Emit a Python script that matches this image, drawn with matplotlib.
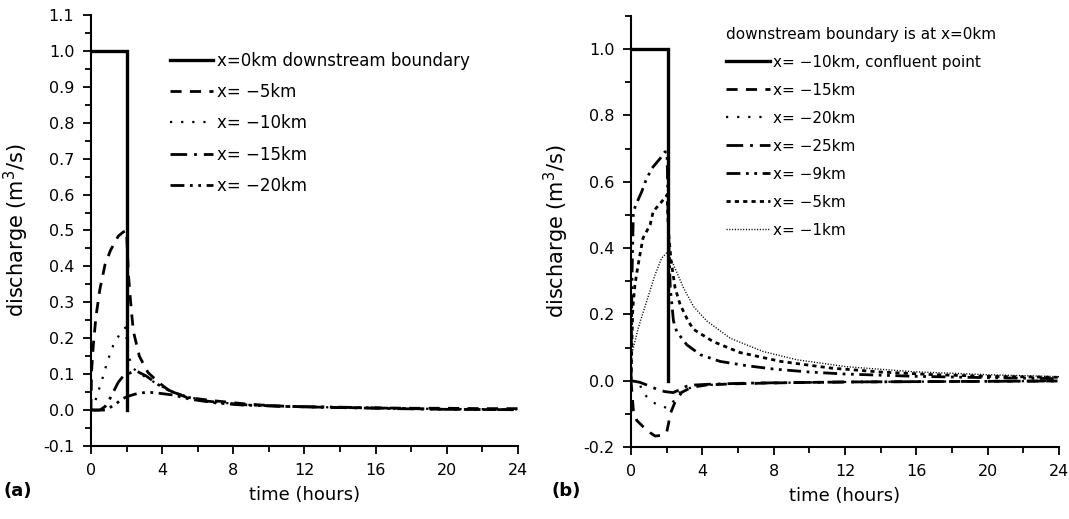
import matplotlib
matplotlib.use("Agg")
import matplotlib.pyplot as plt
from matplotlib import font_manager
from matplotlib.ticker import MultipleLocator

# ---- panel (a): downstream boundary at x=0km ----
t_a_bnd = [0, 2.05, 2.05]
q_a_bnd = [1.0, 1.0, 0.0]
t_a_5 = [0, 0.03, 0.13, 0.28, 0.5, 0.79, 1.1, 1.53, 1.82, 2.0, 2.1, 2.23, 2.38, 2.72,
         3.2, 3.8, 4.4, 5.4, 6.9, 8.7, 10.2, 12, 14, 16, 18, 20, 22, 24]
q_a_5 = [0, 0.105, 0.18, 0.26, 0.336, 0.405, 0.445, 0.484, 0.496, 0.50, 0.38, 0.30, 0.22, 0.15,
         0.105, 0.077, 0.054, 0.035, 0.026, 0.017, 0.012, 0.009, 0.007, 0.006, 0.005, 0.005, 0.004, 0.004]
t_a_10 = [0, 0.15, 0.36, 0.66, 0.92, 1.25, 1.6, 1.95, 2.1, 2.4, 2.8, 3.3, 4.0, 4.8, 5.6,
          7.0, 9.0, 12, 16, 20, 24]
q_a_10 = [0, 0.01, 0.044, 0.09, 0.135, 0.18, 0.21, 0.23, 0.15, 0.115, 0.10, 0.085, 0.065, 0.047, 0.035,
          0.022, 0.014, 0.009, 0.005, 0.003, 0.002]
t_a_15 = [0, 0.5, 0.8, 1.1, 1.53, 1.82, 2.05, 2.5, 3.1, 3.8, 4.6, 5.5, 6.5, 8.5, 11, 14, 17, 20, 24]
q_a_15 = [0, 0.0, 0.01, 0.035, 0.077, 0.095, 0.10, 0.11, 0.095, 0.07, 0.05, 0.035, 0.025, 0.015,
          0.01, 0.007, 0.004, 0.002, 0.001]
t_a_20 = [0, 0.8, 1.1, 1.4, 1.72, 2.05, 2.6, 3.2, 3.8, 4.6, 5.6, 7.0, 8.5, 11, 14, 17, 20, 24]
q_a_20 = [0, 0.0, 0.008, 0.017, 0.03, 0.038, 0.046, 0.05, 0.047, 0.042, 0.03, 0.02, 0.014, 0.01,
          0.008, 0.005, 0.002, 0.001]
labels_a = ["x=0km downstream boundary", "x= \u22125km", "x= \u221210km",
            "x= \u221215km", "x= \u221220km"]

# ---- panel (b): confluent point at x=-10km ----
t_b_bnd = [0, 2.05, 2.05]
q_b_bnd = [1.0, 1.0, 0.0]
t_b_15 = [0, 0.13, 0.32, 0.7, 1.07, 1.35, 1.7, 2.0, 2.1, 2.2, 2.47, 2.85, 3.4, 4.25, 5.5,
          7, 9, 12, 16, 20, 24]
q_b_15 = [0, -0.089, -0.12, -0.14, -0.157, -0.167, -0.165, -0.155, -0.13, -0.10, -0.064, -0.035,
          -0.02, -0.013, -0.01, -0.008, -0.006, -0.004, -0.003, -0.002, -0.001]
t_b_20 = [0, 0.3, 0.5, 0.7, 1.0, 1.25, 1.6, 2.0, 2.3, 2.66, 3.1, 3.6, 4.3, 5.5, 7, 9, 12, 16, 20, 24]
q_b_20 = [0, -0.003, -0.013, -0.038, -0.055, -0.066, -0.075, -0.082, -0.069, -0.038, -0.025,
          -0.018, -0.013, -0.01, -0.008, -0.006, -0.004, -0.003, -0.002, -0.001]
t_b_25 = [0, 0.5, 0.88, 1.2, 1.54, 1.9, 2.36, 2.7, 3.1, 3.6, 4.3, 5.5, 7, 9, 12, 16, 20, 24]
q_b_25 = [0, -0.005, -0.013, -0.02, -0.028, -0.033, -0.036, -0.028, -0.017, -0.013, -0.011,
          -0.009, -0.007, -0.006, -0.004, -0.003, -0.002, -0.001]
t_b_9 = [0, 0.05, 0.13, 0.35, 0.6, 0.8, 1.16, 1.63, 1.9, 2.02, 2.1, 2.2, 2.38, 2.56, 3.13, 3.9,
         5.0, 6.5, 8, 10, 12, 16, 20, 24]
q_b_9 = [0, 0.3, 0.51, 0.54, 0.57, 0.60, 0.64, 0.67, 0.69, 0.69, 0.45, 0.28, 0.18, 0.148, 0.108,
         0.078, 0.058, 0.045, 0.035, 0.026, 0.02, 0.013, 0.009, 0.006]
t_b_5 = [0, 0.05, 0.1, 0.22, 0.4, 0.67, 1.07, 1.24, 1.72, 2.02, 2.1, 2.25, 2.47, 2.75, 3.2, 3.5,
         4.6, 6.1, 8.4, 11.2, 14, 17, 20, 24]
q_b_5 = [0, 0.12, 0.22, 0.29, 0.35, 0.43, 0.47, 0.51, 0.54, 0.56, 0.45, 0.36, 0.28, 0.23, 0.18, 0.155,
         0.118, 0.085, 0.058, 0.038, 0.026, 0.018, 0.013, 0.01]
t_b_1 = [0, 0.04, 0.41, 0.88, 1.35, 1.72, 2.0, 2.3, 2.94, 3.5, 4.25, 5.56, 7.4, 9.3, 12.1, 15.8, 20, 24]
q_b_1 = [0, 0.08, 0.16, 0.24, 0.32, 0.37, 0.385, 0.36, 0.28, 0.224, 0.18, 0.128, 0.088, 0.063,
         0.042, 0.027, 0.018, 0.012]
labels_b = ["x= \u221210km, confluent point", "x= \u221215km", "x= \u221220km", "x= \u221225km",
            "x= \u22129km", "x= \u22125km", "x= \u22121km"]

# narrow font for tick labels if there is one
names = {f.name for f in font_manager.fontManager.ttflist}
tickfont = "Liberation Sans Narrow" if "Liberation Sans Narrow" in names else "DejaVu Sans"

fig = plt.figure(figsize=(10.69, 5.19), dpi=100)
ax1 = fig.add_axes([0.0851, 0.1407, 0.3994, 0.8304])
ax2 = fig.add_axes([0.5903, 0.1388, 0.4004, 0.8304])

solid = dict(color="k", lw=2.4, solid_joinstyle="miter")
ax1.plot(t_a_bnd, q_a_bnd, **solid)
ax1.plot(t_a_5, q_a_5, color="k", lw=2.0, dashes=(4, 3))
ax1.plot(t_a_10, q_a_10, color="k", lw=1.6, dashes=(1, 4))
ax1.plot(t_a_15, q_a_15, color="k", lw=2.0, dashes=(6, 2.5, 1, 2.5))
ax1.plot(t_a_20, q_a_20, color="k", lw=2.0, dashes=(5, 2, 1, 2, 1, 2))

ax2.plot(t_b_bnd, q_b_bnd, **solid)
ax2.plot(t_b_15, q_b_15, color="k", lw=2.0, dashes=(4, 3))
ax2.plot(t_b_20, q_b_20, color="k", lw=1.6, dashes=(1, 4))
ax2.plot(t_b_25, q_b_25, color="k", lw=2.0, dashes=(6, 2.5, 1, 2.5))
ax2.plot(t_b_9, q_b_9, color="k", lw=2.0, dashes=(5, 2, 1, 2, 1, 2))
ax2.plot(t_b_5, q_b_5, color="k", lw=2.0, dashes=(1.5, 1.5))
ax2.plot(t_b_1, q_b_1, color="k", lw=1.0, dashes=(0.8, 1.2))

for ax in (ax1, ax2):
    for s in ("top", "right"):
        ax.spines[s].set_visible(False)
    for s in ("left", "bottom"):
        ax.spines[s].set_linewidth(1.5)
    ax.set_xlim(0, 24)
    ax.xaxis.set_major_locator(MultipleLocator(4))
    ax.xaxis.set_minor_locator(MultipleLocator(2))
    ax.tick_params(which="major", direction="out", length=6, width=1.3, labelsize=11.5, pad=6)
    ax.tick_params(which="minor", direction="out", length=4, width=1.3)
    for lab in ax.get_xticklabels() + ax.get_yticklabels():
        lab.set_family(tickfont)
    ax.set_xlabel("time (hours)", fontsize=13, labelpad=6)
    ax.set_ylabel("discharge (m$^3$/s)", fontsize=15, labelpad=9)

ax1.set_ylim(-0.1, 1.1)
ax1.yaxis.set_major_locator(MultipleLocator(0.1))
ax1.yaxis.set_minor_locator(MultipleLocator(0.05))
ax1.set_yticks([round(-0.1 + 0.1 * i, 1) for i in range(13)])
ax1.set_yticklabels(["%.1f" % v for v in ax1.get_yticks()], family=tickfont)

ax2.set_ylim(-0.2, 1.1)
ax2.yaxis.set_major_locator(MultipleLocator(0.2))
ax2.yaxis.set_minor_locator(MultipleLocator(0.1))
ax2.set_yticks([-0.2, 0.0, 0.2, 0.4, 0.6, 0.8, 1.0])
ax2.set_yticklabels(["%.1f" % v for v in ax2.get_yticks()], family=tickfont)

ax1.legend(ax1.get_lines(), labels_a, loc="upper left", bbox_to_anchor=(0.185, 0.915),
           frameon=False, fontsize=12, borderpad=0, borderaxespad=0, handlelength=2.6,
           handletextpad=0.25, labelspacing=0.8)
ax2.legend(ax2.get_lines(), labels_b, loc="upper left", bbox_to_anchor=(0.222, 0.975),
           frameon=False, fontsize=11, borderpad=0, borderaxespad=0, handlelength=2.9,
           handletextpad=0.15, labelspacing=0.85, title="downstream boundary is at x=0km",
           title_fontsize=11, alignment="left")

fig.text(0.003, 0.045, "(a)", fontsize=13, fontweight="bold")
fig.text(0.516, 0.045, "(b)", fontsize=13, fontweight="bold")

fig.savefig("out.png", dpi=100)
